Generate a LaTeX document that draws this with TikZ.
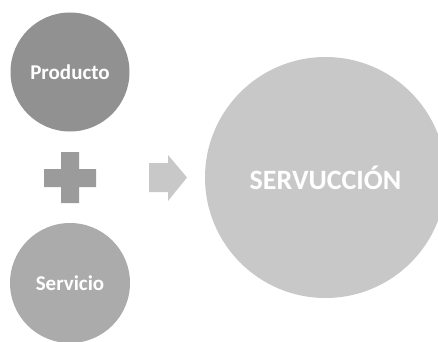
\documentclass[tikz,border=0pt]{standalone}
\usepackage{fontspec}
\setmainfont{Carlito}
\definecolor{gprod}{HTML}{919191}
\definecolor{gserv}{HTML}{ABABAB}
\definecolor{gbig}{HTML}{C8C8C8}
\definecolor{gplus}{HTML}{9B9B9B}
\tikzset{
  ball/.style={circle, inner sep=0pt, text=white, font=\bfseries},
}
\begin{document}
\begin{tikzpicture}[x=1pt,y=1pt]
\useasboundingbox (0,0) rectangle (438,341);
\clip (0,0) rectangle (438,341);
\node[ball, fill=gprod, minimum size=119pt, font=\bfseries\fontsize{21}{25}\selectfont] (prod) at (70,269) {Producto};
\node[ball, fill=gserv, minimum size=120pt, font=\bfseries\fontsize{21}{25}\selectfont] (serv) at (70,58) {Servicio};
\node[ball, fill=gbig, minimum size=241pt, font=\bfseries\fontsize{28}{32}\selectfont] (big) at (325.5,163.5) {SERVUCCIÓN};
\fill[gplus] (61,189) -- (79,189) -- (79,172) -- (96,172) -- (96,154) -- (79,154) -- (79,138) -- (61,138) -- (61,154) -- (44,154) -- (44,172) -- (61,172) -- cycle;
\fill[gbig] (149,178) -- (168,178) -- (168,186) -- (187,163.5) -- (168,140) -- (168,149) -- (149,149) -- cycle;
\end{tikzpicture}
\end{document}
